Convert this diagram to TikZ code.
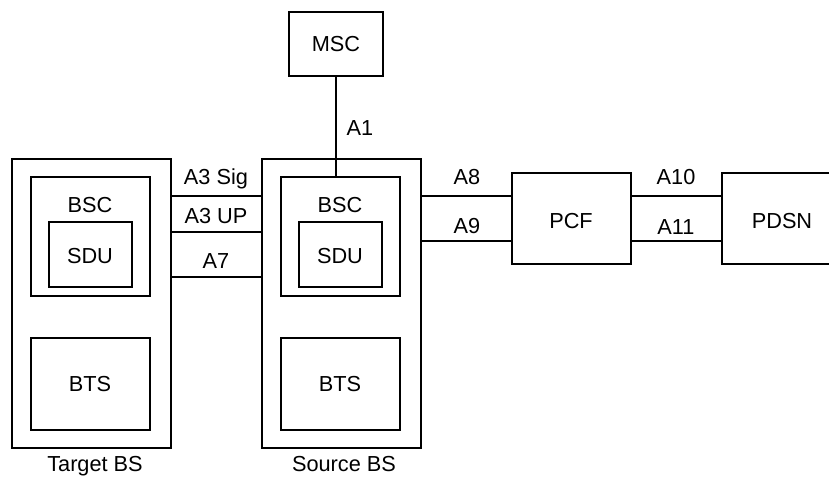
\documentclass[tikz,border=0pt]{standalone}
\usepackage{fontspec}
\setmainfont{Liberation Sans}
\usetikzlibrary{fit}
\begin{document}
\begin{tikzpicture}[x=0.75pt,y=-0.75pt,
  outerbox/.style={draw, line width=1.4pt, inner sep=0pt},
  innerbox/.style={draw, line width=1pt, inner sep=0pt},
  conn/.style={line width=1pt},
  lbl/.style={inner sep=0pt},
  every node/.style={font=\fontsize{16.3}{19}\selectfont}]
\useasboundingbox (0,0) rectangle (829,476);
\clip (0,0) rectangle (829,476);
% MSC
\node[innerbox, fit={(289,12) (383,76)}] (msc) {};
\node[lbl] (msct) at (336,44) {MSC};
% Target BS
\node[outerbox, fit={(12,159) (171,448)}] (tbs) {};
\node[innerbox, fit={(31,177) (150,296)}] (tbsc) {};
\node[lbl] (tbsct) at (90,205) {BSC};
\node[innerbox, fit={(49,222) (132,287)}] (tsdu) {};
\node[lbl] (tsdut) at (90,256) {SDU};
\node[innerbox, fit={(31,338) (150,430)}] (tbts) {};
\node[lbl] (tbtst) at (90,384) {BTS};
\node[lbl, anchor=base] (tbsl) at (95,471) {Target BS};
% Source BS
\node[outerbox, fit={(262,159) (421,448)}] (sbs) {};
\node[innerbox, fit={(281,177) (400,296)}] (sbsc) {};
\node[lbl] (sbsct) at (340,205) {BSC};
\node[innerbox, fit={(299,222) (382,287)}] (ssdu) {};
\node[lbl] (ssdut) at (340,256) {SDU};
\node[innerbox, fit={(281,338) (400,430)}] (sbts) {};
\node[lbl] (sbtst) at (340,384) {BTS};
\node[lbl, anchor=base] (sbsl) at (344,471) {Source BS};
% PCF, PDSN
\node[innerbox, fit={(512,173) (631,264)}] (pcf) {};
\node[lbl] (pcft) at (571,221) {PCF};
\node[innerbox, fit={(722,173) (850,264)}] (pdsn) {};
\node[lbl] (pdsnt) at (782,221) {PDSN};
% connectors
\coordinate (a1top) at (336,76);
\draw[conn] (a1top) -- (a1top |- sbsc.north);
\node[lbl] (la1) at (360,128) {A1};
\coordinate (y1) at (0,196);
\coordinate (y2) at (0,232);
\coordinate (y3) at (0,277);
\coordinate (y4) at (0,241);
\draw[conn] (tbs.east |- y1) -- (sbs.west |- y1);
\draw[conn] (tbs.east |- y2) -- (sbs.west |- y2);
\draw[conn] (tbs.east |- y3) -- (sbs.west |- y3);
\node[lbl] (la3s) at (216,179) {A3 Sig};
\node[lbl] (la3u) at (216,216) {A3 UP};
\node[lbl] (la7) at (216,261) {A7};
\draw[conn] (sbs.east |- y1) -- (pcf.west |- y1);
\draw[conn] (sbs.east |- y4) -- (pcf.west |- y4);
\node[lbl] (la8) at (467,177) {A8};
\node[lbl] (la9) at (467,226) {A9};
\draw[conn] (pcf.east |- y1) -- (pdsn.west |- y1);
\draw[conn] (pcf.east |- y4) -- (pdsn.west |- y4);
\node[lbl] (la10) at (676,177) {A10};
\node[lbl] (la11) at (676,227) {A11};
\end{tikzpicture}
\end{document}
